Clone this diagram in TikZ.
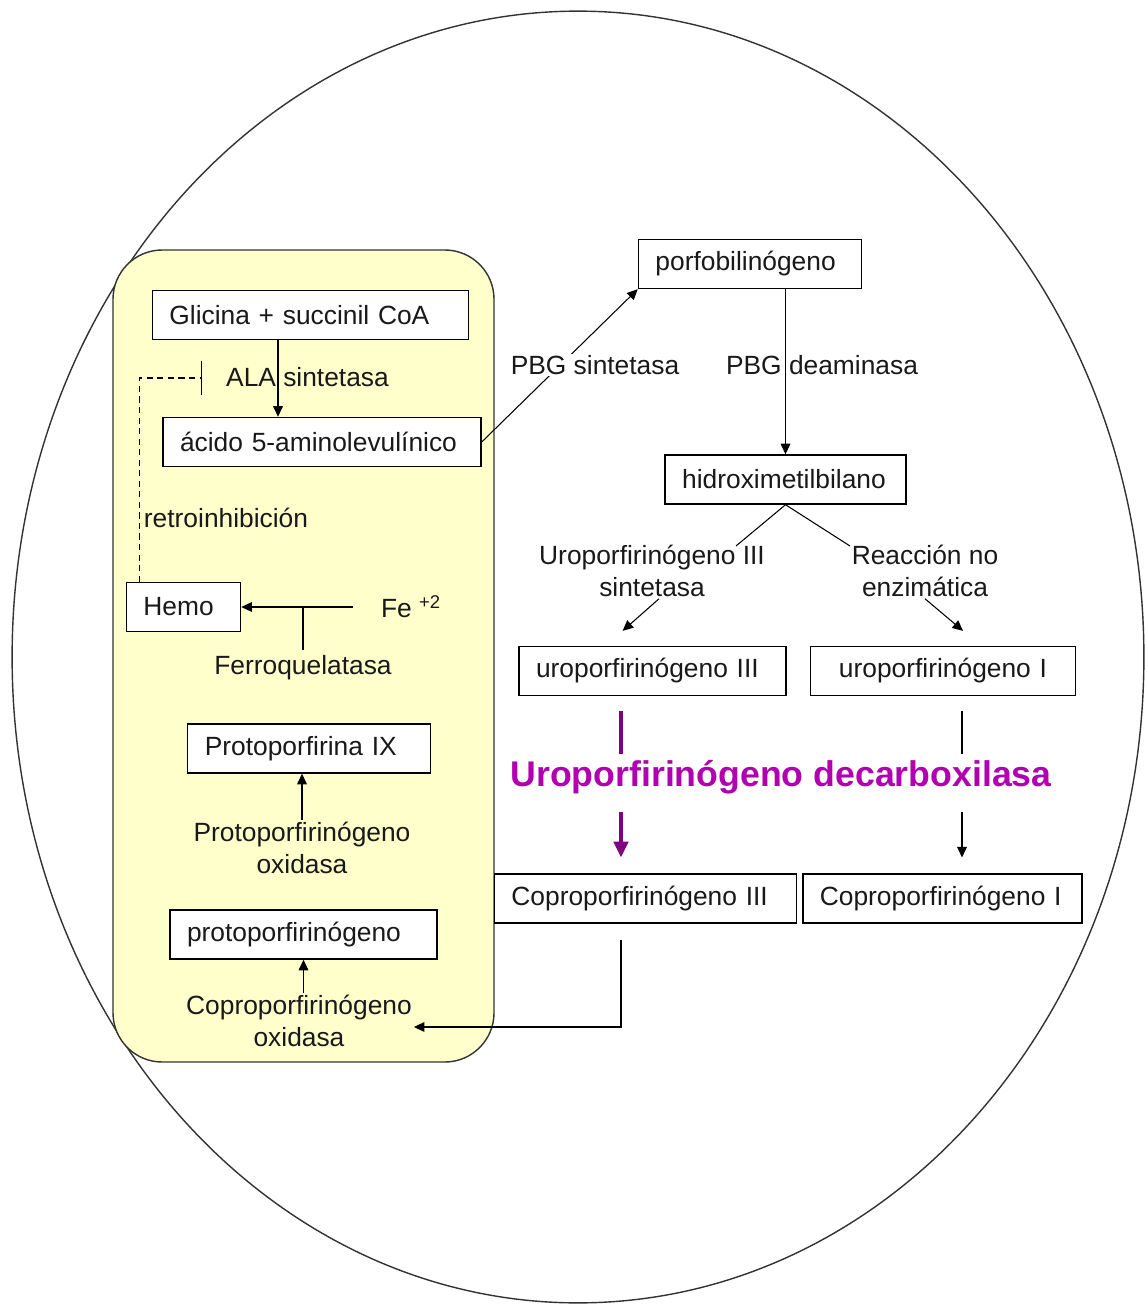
\documentclass[tikz,border=0pt]{standalone}
\usepackage{fontspec}
\setmainfont{Liberation Sans}
\usetikzlibrary{arrows.meta, positioning}

\definecolor{cellyellow}{RGB}{255,255,204}
\definecolor{enzpurple}{RGB}{176,0,176}
\definecolor{arrpurple}{RGB}{128,0,128}

\begin{document}
\begin{tikzpicture}[
    x=0.02cm, y=-0.02cm,
    every node/.style={font=\fontsize{15}{18}\selectfont, text=black!90},
    box/.style={draw=black, line width=0.8pt, fill=white, minimum height=27.9pt, inner xsep=9.7pt, align=left},
    enz/.style={align=center, inner sep=1pt},
    arrow/.style={-{Triangle[length=6pt, width=5.5pt]}, line width=0.6pt},
    link/.style={line width=0.6pt},
    inhib/.style={dash pattern=on 3.5pt off 2.5pt, line width=0.6pt, -{Bar[width=19pt, line width=0.8pt]}},
    purpleline/.style={draw=arrpurple, line width=2.8pt},
    purplearrow/.style={purpleline, -{Triangle[length=9pt, width=8pt]}}
]
\useasboundingbox (0,0) rectangle (1144,1304);
\fill[white] (0,0) rectangle (1144,1304);

% cell and mitochondrion
\draw[line width=0.8pt, draw=black!80] (578,657) ellipse [x radius=11.32cm, y radius=12.92cm];
\draw[line width=0.8pt, draw=black!80, fill=cellyellow, rounded corners=28pt] (113,250) rectangle (494,1062);

% mitochondrial steps
\node[box, text width=160.6pt] (glic) at (310.5,315) {Glicina + succinil CoA};
\node[box, text width=161.6pt] (ala) at (322,442) {ácido 5-aminolevulínico};
\node[box, text width=45.6pt] (hemo) at (183.5,607) {Hemo};
\node (fe) at (411,607) {Fe \textsuperscript{+2}};
\node[box, text width=118.6pt] (protoIX) at (309,748.5) {Protoporfirina IX};
\node[box, text width=132.6pt] (protogen) at (303.5,934.5) {protoporfirinógeno};

\node (alas) at (307.5,377) {ALA sintetasa};
\node (retro) at (226,518) {retroinhibición};
\node (fq) at (303,668) {Ferroquelatasa};
\node[enz] (ppox) at (302,848) {Protoporfirinógeno\\oxidasa};
\node[enz] (cpox) at (299,1021) {Coproporfirinógeno\\oxidasa};

% cytosolic steps
\node[box, text width=107.6pt] (pbg) at (750,264) {porfobilinógeno};
\node[box, text width=117.6pt] (hmb) at (785.5,479.5) {hidroximetilbilano};
\node[box, text width=132.6pt] (uroIII) at (652.5,671) {uroporfirinógeno III};
\node[box, text width=131.6pt, align=center] (uroI) at (943,671) {uroporfirinógeno I};
\node[box, text width=152.6pt] (coproIII) at (645.5,898.5) {Coproporfirinógeno III};
\node[box, text width=139.6pt] (coproI) at (942.5,898.5) {Coproporfirinógeno I};

\node (pbgd) at (822,365) {PBG deaminasa};
\node[enz] (urosin) at (652,571) {Uroporfirinógeno III\\sintetasa};
\node[enz] (reac) at (925,571) {Reacción no\\enzimática};
\node[font=\fontsize{20.3}{24}\selectfont\bfseries, text=enzpurple] (decarb) at (781,777) {Uroporfirinógeno decarboxilasa};

\coordinate (xala) at (278,0);
\coordinate (xpur) at (621,0);
\coordinate (xrgt) at (962,0);
\coordinate (inh) at (202,378);
\coordinate (splitL) at (736,546);
\coordinate (splitR) at (850,546);

% connectors inside the mitochondrion
\draw[arrow] (glic.south -| xala) -- (ala.north -| xala);
\draw[inhib] ([xshift=8pt]hemo.north west) |- (inh);
\draw[arrow] ([xshift=-12.5pt]fe.west) -- (hemo.east);
\draw[link] (fq.north) -- (fq.north |- hemo.east);
\draw[arrow] (ppox.north) -- (protoIX.south -| ppox.north);
\draw[arrow] (cpox.north -| protogen.south) -- (protogen.south);

% connectors in the cytosol
\draw[arrow] (ala.east) -- (pbg.south west);
\node[fill=white, inner sep=1pt] (pbgs) at (595,365) {PBG sintetasa};
\draw[arrow] (pbg.south -| hmb.north) -- (hmb.north);
\draw[link] (hmb.south) -- (splitL);
\draw[link] (hmb.south) -- (splitR);
\draw[arrow] ([xshift=4pt]urosin.south) -- ([xshift=-17pt, yshift=8.5pt]uroIII.north);
\draw[arrow] (reac.south) -- ([xshift=11.4pt, yshift=8.5pt]uroI.north);
\draw[purpleline] ([yshift=-8.5pt]uroIII.south -| xpur) -- (decarb.north -| xpur);
\draw[purplearrow] ([yshift=-7pt]decarb.south -| xpur) -- ([yshift=9pt]coproIII.north -| xpur);
\draw[link] ([yshift=-8.5pt]uroI.south -| xrgt) -- (decarb.north -| xrgt);
\draw[arrow] ([yshift=-7pt]decarb.south -| xrgt) -- ([yshift=9pt]coproI.north -| xrgt);
\draw[arrow] ([yshift=-9pt]coproIII.south -| xpur) |- ([yshift=-3.4pt]cpox.east);

\end{tikzpicture}
\end{document}
